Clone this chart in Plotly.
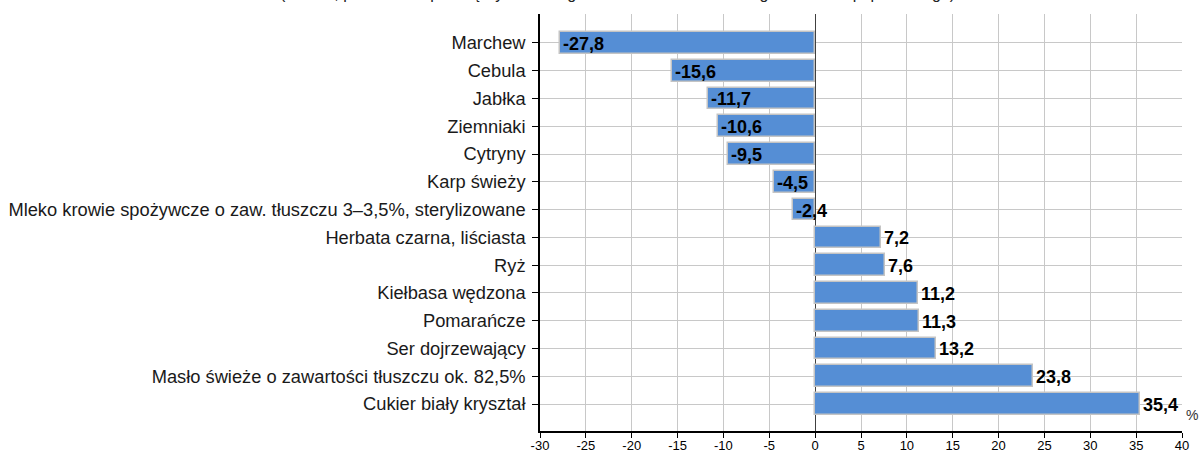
import plotly.graph_objects as go

# ---- data ----
categories = [
    "Marchew",
    "Cebula",
    "Jabłka",
    "Ziemniaki",
    "Cytryny",
    "Karp świeży",
    "Mleko krowie spożywcze o zaw. tłuszczu 3–3,5%, sterylizowane",
    "Herbata czarna, liściasta",
    "Ryż",
    "Kiełbasa wędzona",
    "Pomarańcze",
    "Ser dojrzewający",
    "Masło świeże o zawartości tłuszczu ok. 82,5%",
    "Cukier biały kryształ",
]
values = [-27.8, -15.6, -11.7, -10.6, -9.5, -4.5, -2.4, 7.2, 7.6, 11.2, 11.3, 13.2, 23.8, 35.4]
x_tickvals = [-30, -25, -20, -15, -10, -5, 0, 5, 10, 15, 20, 25, 30, 35, 40]
x_ticktext = ["-30", "-25", "-20", "-15", "-10", "-5", "0", "5", "10", "15", "20", "25", "30", "35", "40"]
title_text = "(2023 r., porównanie przeciętnych cen z grudnia 2023 r. z cenami z grudnia roku poprzedniego)"
unit_text = "%"

idx = list(range(len(categories)))
labels = [f"{v:.1f}".replace(".", ",") for v in values]

FONT = "Liberation Sans, Arial, sans-serif"
BAR_COLOR = "rgb(85,142,213)"
GRID = "#c8c8c8"

fig = go.Figure()
fig.add_trace(go.Bar(
    x=values,
    y=idx,
    orientation="h",
    width=0.78,
    marker=dict(color=BAR_COLOR, line=dict(color="#c4c4c4", width=1.5)),
    hoverinfo="x+y",
    showlegend=False,
))

for v, i, t in zip(values, idx, labels):
    fig.add_annotation(
        x=v, y=i, xref="x", yref="y", text=f"<b>{t}</b>",
        showarrow=False, xanchor="left", yanchor="middle", xshift=1, yshift=-1,
        font=dict(family=FONT, size=18, color="#000000"),
    )

fig.add_annotation(
    x=1, y=13.4, xref="paper", yref="y", text=unit_text, showarrow=False,
    xanchor="left", yanchor="middle", xshift=2,
    font=dict(family=FONT, size=14, color="#333333"),
)

fig.add_annotation(
    x=(617 - 540) / 642, y=1, xref="paper", yref="paper", text=title_text,
    showarrow=False, xanchor="center", yanchor="bottom", yshift=10,
    font=dict(family=FONT, size=16, color="#222222"),
)

yrange = [13.97, -1.04]

fig.update_layout(
    width=1204, height=453,
    margin=dict(l=540, r=22, t=14, b=22, autoexpand=False),
    paper_bgcolor="white", plot_bgcolor="white",
    bargap=0,
    font=dict(family=FONT, size=14, color="#1a1a1a"),
    xaxis=dict(
        range=[-30, 40], tickvals=x_tickvals, ticktext=x_ticktext,
        ticks="outside", ticklen=5, tickcolor="#000", tickwidth=1,
        showline=True, linecolor="#000", linewidth=1.5,
        showgrid=True, gridcolor=GRID, gridwidth=1,
        zeroline=True, zerolinecolor="#404040", zerolinewidth=1.2,
        tickfont=dict(family=FONT, size=13, color="#000"),
        ticklabelstandoff=-3,
        fixedrange=True,
    ),
    xaxis2=dict(
        overlaying="x", side="top", range=[-30, 40],
        tick0=-27.93, dtick=3.98, ticks="inside", ticklen=5,
        tickcolor="#000", showticklabels=False,
        showline=True, linecolor="#000", linewidth=1.5,
        showgrid=False, zeroline=False,
    ),
    yaxis=dict(
        range=yrange, tickvals=idx, ticktext=categories,
        ticks="outside", ticklen=6, tickcolor="#000",
        showline=True, linecolor="#000", linewidth=1.5,
        showgrid=True, gridcolor=GRID, gridwidth=1,
        zeroline=False,
        tickfont=dict(family=FONT, size=18.3, color="#1a1a1a"),
        ticklabelstandoff=3,
    ),
    yaxis2=dict(
        overlaying="y", side="right", range=yrange, tickvals=idx,
        ticks="inside", ticklen=5, tickcolor="#000", showticklabels=False,
        showline=True, linecolor="#333", linewidth=1.5,
        showgrid=False, zeroline=False,
    ),
)

fig.write_html(
    "out.html",
    config={"displayModeBar": False},
    post_script="document.body.style.margin='0';document.body.style.overflow='hidden';",
)
